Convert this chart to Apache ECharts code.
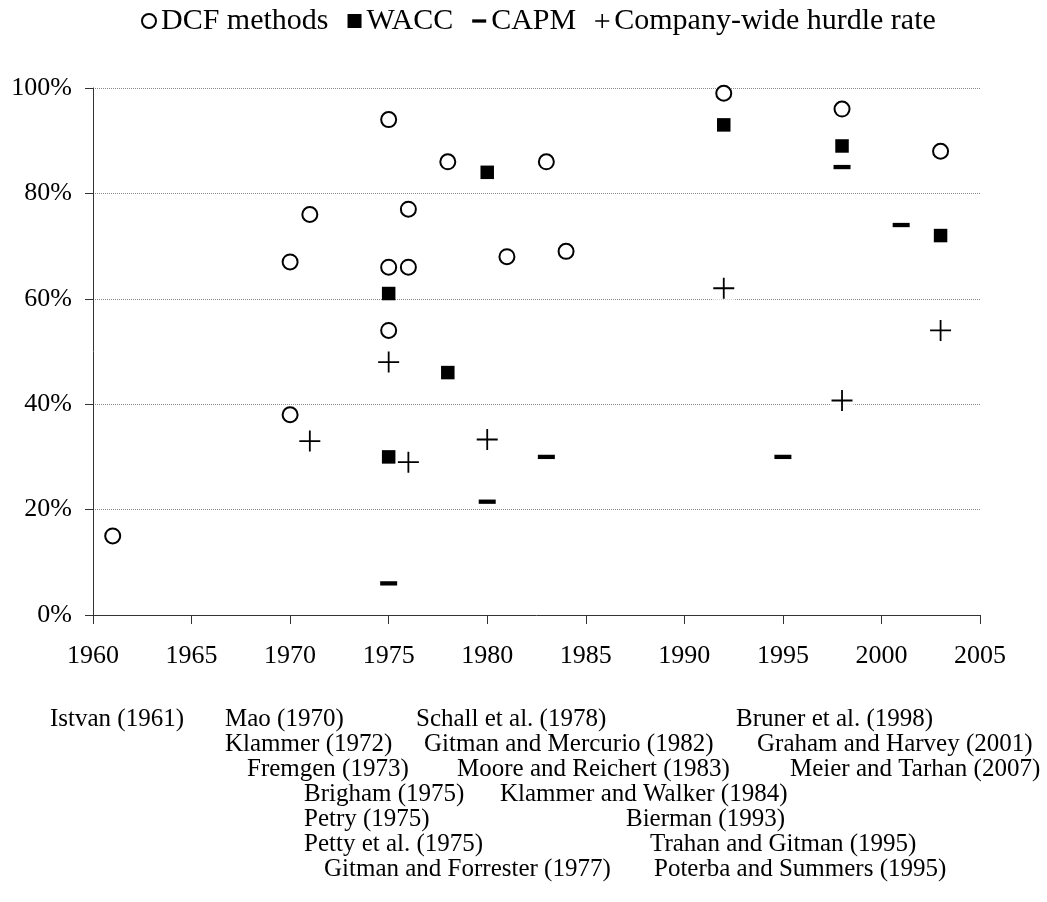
<!DOCTYPE html>
<html>
<head>
<meta charset="utf-8">
<script src="https://cdn.jsdelivr.net/npm/echarts@6/dist/echarts.min.js"></script>
<style>
  html, body { margin: 0; padding: 0; background: #fff; }
  #chart { width: 1047px; height: 902px; }
</style>
</head>
<body>
<div id="chart"></div>
<script>
// ---- Data ----
const seriesNames = ['DCF methods', 'WACC', 'CAPM', 'Company-wide hurdle rate'];

const dcfYears  = [1961, 1970, 1970, 1971, 1975, 1975, 1975, 1976, 1976, 1978, 1981, 1983, 1984, 1992, 1998, 2003];
const dcfShares = [15,   67,   38,   76,   94,   66,   54,   77,   66,   86,   68,   86,   69,   99,   96,   88];

const waccYears  = [1975, 1975, 1978, 1980, 1992, 1998, 2003];
const waccShares = [61,   30,   46,   84,   93,   89,   72];

const capmYears  = [1975, 1980, 1983, 1995, 1998, 2001];
const capmShares = [6,    21.5, 30,   30,   85,   74];

const hurdleYears  = [1971, 1975, 1976, 1980, 1992, 1998, 2003];
const hurdleShares = [33,   48,   29,   33.3, 62,   40.7, 54];

const xTicks = [1960, 1965, 1970, 1975, 1980, 1985, 1990, 1995, 2000, 2005];
const yTicks = [0, 20, 40, 60, 80, 100];

const studies = [
  'Istvan (1961)', 'Mao (1970)', 'Schall et al. (1978)', 'Bruner et al. (1998)',
  'Klammer (1972)', 'Gitman and Mercurio (1982)', 'Graham and Harvey (2001)',
  'Fremgen (1973)', 'Moore and Reichert (1983)', 'Meier and Tarhan (2007)',
  'Brigham (1975)', 'Klammer and Walker (1984)',
  'Petry (1975)', 'Bierman (1993)',
  'Petty et al. (1975)', 'Trahan and Gitman (1995)',
  'Gitman and Forrester (1977)', 'Poterba and Summers (1995)'
];

// ---- Layout (positions of the study list) ----
const studyX   = [50, 225, 416, 736, 225, 424, 757, 247, 457, 790, 304, 500, 304, 626, 304, 650, 324, 654];
const studyRow = [0, 0, 0, 0, 1, 1, 1, 2, 2, 2, 3, 3, 4, 4, 5, 5, 6, 6];
const rowTop = 719, rowStep = 25;

const FONT = 'Liberation Serif, Times New Roman, serif';
const pairs = (xs, ys) => xs.map((x, i) => [x, ys[i]]);
const plusPath = 'path://M9.6,0H11.4V9.6H21V11.4H11.4V21H9.6V11.4H0V9.6H9.6Z';
const legendPlusPath = 'path://M6.2,0H7.8V6.2H14V7.8H7.8V14H6.2V7.8H0V6.2H6.2Z';
const dashPath = 'path://M0,0H17V4H0Z';

const chart = echarts.init(document.getElementById('chart'), null, { renderer: 'canvas' });

const option = {
  animation: false,
  backgroundColor: '#fff',
  legend: {
    left: 136, top: 1, padding: 5,
    itemWidth: 14, itemHeight: 14, itemGap: 19,
    textStyle: { fontFamily: FONT, fontSize: 30, color: '#000' },
    data: [
      { name: seriesNames[0], icon: 'circle', itemStyle: { color: '#fff', borderColor: '#000', borderWidth: 2 } },
      { name: seriesNames[1], icon: 'rect', itemStyle: { color: '#000', borderWidth: 0 } },
      { name: seriesNames[2], icon: dashPath, itemStyle: { color: '#000', borderWidth: 0 } },
      { name: seriesNames[3], icon: legendPlusPath, itemStyle: { color: '#000', borderWidth: 0 } }
    ]
  },
  grid: { left: 93, right: 67, top: 88, bottom: 287, containLabel: false },
  xAxis: {
    type: 'value', min: xTicks[0], max: xTicks[xTicks.length - 1], interval: 5,
    axisLine: { show: true, lineStyle: { color: '#333', width: 1 } },
    axisTick: { show: true, length: 9, lineStyle: { color: '#333' } },
    splitLine: { show: false },
    axisLabel: { margin: 28, fontFamily: FONT, fontSize: 26, color: '#000', formatter: v => String(v) }
  },
  yAxis: {
    type: 'value', min: yTicks[0], max: yTicks[yTicks.length - 1], interval: 20,
    axisLine: { show: true, lineStyle: { color: '#333', width: 1 } },
    axisTick: { show: true, length: 8, lineStyle: { color: '#333' } },
    splitLine: { show: true, lineStyle: { color: '#8a8a8a', width: 1, type: 'dotted' } },
    axisLabel: { margin: 21, fontFamily: FONT, fontSize: 26, color: '#000', formatter: '{value}%' }
  },
  series: [
    {
      name: '_hurdleBg', type: 'scatter', silent: true, z: 2,
      data: pairs(hurdleYears, hurdleShares),
      symbol: 'rect', symbolSize: 23,
      itemStyle: { color: '#fff', borderWidth: 0 }
    },
    {
      name: seriesNames[0], type: 'scatter', z: 3,
      data: pairs(dcfYears, dcfShares),
      symbol: 'circle', symbolSize: 15,
      itemStyle: { color: '#fff', borderColor: '#000', borderWidth: 2, opacity: 1 }
    },
    {
      name: seriesNames[1], type: 'scatter', z: 3,
      data: pairs(waccYears, waccShares),
      symbol: 'rect', symbolSize: 13.5,
      itemStyle: { color: '#000', borderWidth: 0, opacity: 1 }
    },
    {
      name: seriesNames[2], type: 'scatter', z: 3,
      data: pairs(capmYears, capmShares),
      symbol: 'rect', symbolSize: [17, 4.3],
      itemStyle: { color: '#000', borderWidth: 0, opacity: 1 }
    },
    {
      name: seriesNames[3], type: 'scatter', z: 3,
      data: pairs(hurdleYears, hurdleShares),
      symbol: plusPath, symbolSize: 21, symbolKeepAspect: false,
      itemStyle: { color: '#000', borderWidth: 0, opacity: 1 }
    }
  ],
  graphic: studies.map((t, i) => ({
    type: 'text', silent: true,
    x: studyX[i], y: rowTop + studyRow[i] * rowStep,
    style: { text: t, fontFamily: FONT, fontSize: 25, fill: '#000', align: 'left', verticalAlign: 'middle' }
  }))
};

chart.setOption(option);
</script>
</body>
</html>
